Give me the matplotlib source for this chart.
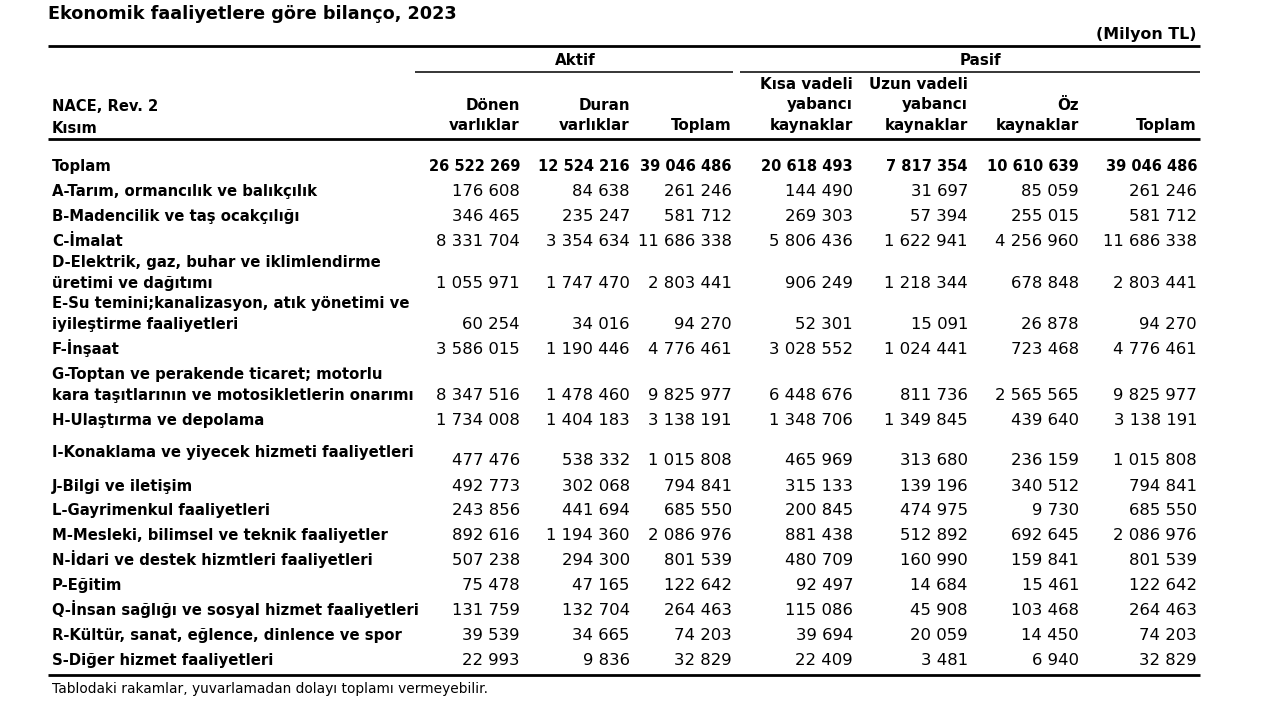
import matplotlib
matplotlib.use("Agg")
import matplotlib.pyplot as plt

plt.rcParams['font.family'] = ['DejaVu Sans']

title = "Ekonomik faaliyetlere göre bilanço, 2023"
unit = "(Milyon TL)"
footnote = "Tablodaki rakamlar, yuvarlamadan dolayı toplamı vermeyebilir."
group_labels = ["Aktif", "Pasif"]
stub_header = ["NACE, Rev. 2", "Kısım"]
col_headers = [["Dönen", "varlıklar"], ["Duran", "varlıklar"], ["Toplam"],
               ["Kısa vadeli", "yabancı", "kaynaklar"], ["Uzun vadeli", "yabancı", "kaynaklar"],
               ["Öz", "kaynaklar"], ["Toplam"]]

sectors = [
    ["Toplam"],
    ["A-Tarım, ormancılık ve balıkçılık"],
    ["B-Madencilik ve taş ocakçılığı"],
    ["C-İmalat"],
    ["D-Elektrik, gaz, buhar ve iklimlendirme", "üretimi ve dağıtımı"],
    ["E-Su temini;kanalizasyon, atık yönetimi ve", "iyileştirme faaliyetleri"],
    ["F-İnşaat"],
    ["G-Toptan ve perakende ticaret; motorlu", "kara taşıtlarının ve motosikletlerin onarımı"],
    ["H-Ulaştırma ve depolama"],
    ["I-Konaklama ve yiyecek hizmeti faaliyetleri"],
    ["J-Bilgi ve iletişim"],
    ["L-Gayrimenkul faaliyetleri"],
    ["M-Mesleki, bilimsel ve teknik faaliyetler"],
    ["N-İdari ve destek hizmtleri faaliyetleri"],
    ["P-Eğitim"],
    ["Q-İnsan sağlığı ve sosyal hizmet faaliyetleri"],
    ["R-Kültür, sanat, eğlence, dinlence ve spor"],
    ["S-Diğer hizmet faaliyetleri"],
]

donen = [26522269, 176608, 346465, 8331704, 1055971, 60254, 3586015, 8347516, 1734008,
         477476, 492773, 243856, 892616, 507238, 75478, 131759, 39539, 22993]
duran = [12524216, 84638, 235247, 3354634, 1747470, 34016, 1190446, 1478460, 1404183,
         538332, 302068, 441694, 1194360, 294300, 47165, 132704, 34665, 9836]
aktif_toplam = [39046486, 261246, 581712, 11686338, 2803441, 94270, 4776461, 9825977, 3138191,
                1015808, 794841, 685550, 2086976, 801539, 122642, 264463, 74203, 32829]
kisa = [20618493, 144490, 269303, 5806436, 906249, 52301, 3028552, 6448676, 1348706,
        465969, 315133, 200845, 881438, 480709, 92497, 115086, 39694, 22409]
uzun = [7817354, 31697, 57394, 1622941, 1218344, 15091, 1024441, 811736, 1349845,
        313680, 139196, 474975, 512892, 160990, 14684, 45908, 20059, 3481]
oz = [10610639, 85059, 255015, 4256960, 678848, 26878, 723468, 2565565, 439640,
      236159, 340512, 9730, 692645, 159841, 15461, 103468, 14450, 6940]
pasif_toplam = [39046486, 261246, 581712, 11686338, 2803441, 94270, 4776461, 9825977, 3138191,
                1015808, 794841, 685550, 2086976, 801539, 122642, 264463, 74203, 32829]

columns = [donen, duran, aktif_toplam, kisa, uzun, oz, pasif_toplam]

# ---- layout (pixel coordinates, y downwards) ----
col_right = [520, 630, 732, 853, 968, 1079, 1197]
value_y = [166, 191, 216, 241, 283, 324, 349, 395, 420, 460, 486, 510, 535, 560, 585, 610, 635, 660]
label_y = [166, 191, 216, 241, 262, 303, 349, 374, 420, 452, 486, 510, 535, 560, 585, 610, 635, 660]
line_gap = 21
BASE = 5  # centre -> baseline offset


def fmt(v):
    return f"{v:,}".replace(",", " ")


fig = plt.figure(figsize=(12.8, 7.2), dpi=100)
ax = fig.add_axes([0, 0, 1, 1])
ax.set_xlim(0, 1280)
ax.set_ylim(720, 0)
ax.axis('off')
renderer = fig.canvas.get_renderer()


def fit(text, weight, target_px):
    t = ax.text(0, 0, text, fontsize=10, fontweight=weight)
    w = t.get_window_extent(renderer).width
    t.remove()
    return 10 * target_px / w


fs_title = fit(title, 'bold', 407)
fs_label = fit(sectors[15][0], 'bold', 365)
fs_num = fit(fmt(donen[1]), 'normal', 68)
fs_numb = fs_num * 0.89
fs_foot = fit(footnote, 'normal', 435)
fs_unit = fit(unit, 'bold', 100)
fs_head = fit("Kısa vadeli", 'bold', 93)

ax.text(48, 19, title, fontsize=fs_title, fontweight='bold', va='baseline', ha='left')
ax.text(1197, 34 + BASE, unit, fontsize=fs_unit, fontweight='bold', va='baseline', ha='right')

# rules
ax.plot([48, 1200], [46, 46], color='black', lw=2.0, solid_capstyle='butt')
ax.plot([415, 733], [72, 72], color='black', lw=1.1, solid_capstyle='butt')
ax.plot([740, 1200], [72, 72], color='black', lw=1.1, solid_capstyle='butt')
ax.plot([48, 1200], [139, 139], color='black', lw=2.0, solid_capstyle='butt')
ax.plot([48, 1200], [675, 675], color='black', lw=2.0, solid_capstyle='butt')

ax.text(575, 60 + BASE, group_labels[0], fontsize=fs_head, fontweight='bold', ha='center', va='baseline')
ax.text(980, 60 + BASE, group_labels[1], fontsize=fs_head, fontweight='bold', ha='center', va='baseline')

ax.text(52, 106 + BASE, stub_header[0], fontsize=fs_head * 0.97, fontweight='bold', va='baseline')
ax.text(52, 128 + BASE, stub_header[1], fontsize=fs_head * 0.97, fontweight='bold', va='baseline')

for xr, hdr in zip(col_right, col_headers):
    n = len(hdr)
    for k, line in enumerate(hdr):
        y = 125 - (n - 1 - k) * 20.5 + BASE
        ax.text(xr, y, line, fontsize=fs_head, fontweight='bold', ha='right', va='baseline')

for i, lines in enumerate(sectors):
    for k, line in enumerate(lines):
        ax.text(52, label_y[i] + k * line_gap + BASE, line, fontsize=fs_label, fontweight='bold',
                ha='left', va='baseline')
    for xr, col in zip(col_right, columns):
        bold = (i == 0)
        ax.text(xr, value_y[i] + BASE, fmt(col[i]), fontsize=fs_numb if bold else fs_num,
                fontweight='bold' if bold else 'normal', ha='right', va='baseline')

ax.text(52, 693, footnote, fontsize=fs_foot, ha='left', va='baseline')

fig.savefig("out.png", dpi=100)
